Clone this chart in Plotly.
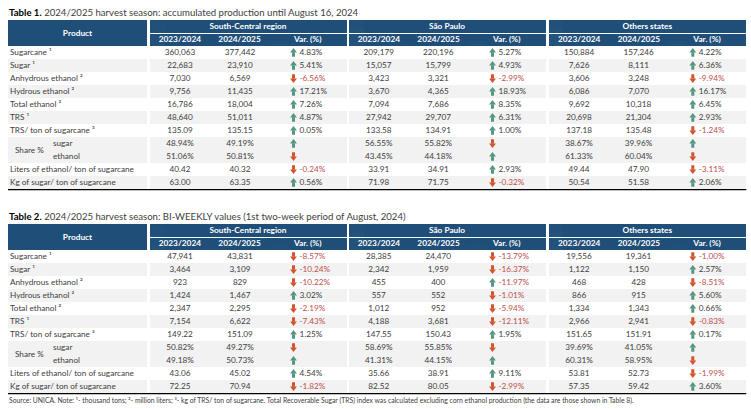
import plotly.graph_objects as go

# ---------------- data ----------------
products = ["Sugarcane ¹", "Sugar ¹", "Anhydrous ethanol ²", "Hydrous ethanol ²",
            "Total ethanol ²", "TRS ¹", "TRS/ ton of sugarcane ³", "sugar", "ethanol",
            "Liters of ethanol/ ton of sugarcane", "Kg of sugar/ ton of sugarcane"]
share_label = "Share %"
product_header = "Product"
regions = ["South-Central region", "São Paulo", "Others states"]
col_labels = ["2023/2024", "2024/2025", "Var. (%)"]
row_kinds = ["int", "int", "int", "int", "int", "int", "dec", "pct", "pct", "dec", "dec"]

t1_title_bold = "Table 1."
t1_title_rest = "2024/2025 harvest season: accumulated production until August 16, 2024"
t2_title_bold = "Table 2."
t2_title_rest = "2024/2025 harvest season: BI-WEEKLY values (1st two-week period of August, 2024)"
source_note = ("Source: UNICA. Note: ¹- thousand tons; ²- million liters; ³- kg of TRS/ ton of sugarcane. "
               "Total Recoverable Sugar (TRS) index was calculated excluding corn ethanol production "
               "(the data are those shown in Table 8).")

# Table 1 - accumulated
t1_sc_prev = [360063, 22683, 7030, 9756, 16786, 48640, 135.09, 48.94, 51.06, 40.42, 63.00]
t1_sc_curr = [377442, 23910, 6569, 11435, 18004, 51011, 135.15, 49.19, 50.81, 40.32, 63.35]
t1_sc_var = [4.83, 5.41, -6.56, 17.21, 7.26, 4.87, 0.05, None, None, -0.24, 0.56]
t1_sc_dir = ["up", "up", "down", "up", "up", "up", "up", "up", "down", "down", "up"]

t1_sp_prev = [209179, 15057, 3423, 3670, 7094, 27942, 133.58, 56.55, 43.45, 33.91, 71.98]
t1_sp_curr = [220196, 15799, 3321, 4365, 7686, 29707, 134.91, 55.82, 44.18, 34.91, 71.75]
t1_sp_var = [5.27, 4.93, -2.99, 18.93, 8.35, 6.31, 1.00, None, None, 2.93, -0.32]
t1_sp_dir = ["up", "up", "down", "up", "up", "up", "up", "down", "up", "up", "down"]

t1_ot_prev = [150884, 7626, 3606, 6086, 9692, 20698, 137.18, 38.67, 61.33, 49.44, 50.54]
t1_ot_curr = [157246, 8111, 3248, 7070, 10318, 21304, 135.48, 39.96, 60.04, 47.90, 51.58]
t1_ot_var = [4.22, 6.36, -9.94, 16.17, 6.45, 2.93, -1.24, None, None, -3.11, 2.06]
t1_ot_dir = ["up", "up", "down", "up", "up", "up", "down", "up", "down", "down", "up"]

# Table 2 - bi-weekly
t2_sc_prev = [47941, 3464, 923, 1424, 2347, 7154, 149.22, 50.82, 49.18, 43.06, 72.25]
t2_sc_curr = [43831, 3109, 829, 1467, 2295, 6622, 151.09, 49.27, 50.73, 45.02, 70.94]
t2_sc_var = [-8.57, -10.24, -10.22, 3.02, -2.19, -7.43, 1.25, None, None, 4.54, -1.82]
t2_sc_dir = ["down", "down", "down", "up", "down", "down", "up", "down", "up", "up", "down"]

t2_sp_prev = [28385, 2342, 455, 557, 1012, 4188, 147.55, 58.69, 41.31, 35.66, 82.52]
t2_sp_curr = [24470, 1959, 400, 552, 952, 3681, 150.43, 55.85, 44.15, 38.91, 80.05]
t2_sp_var = [-13.79, -16.37, -11.97, -1.01, -5.94, -12.11, 1.95, None, None, 9.11, -2.99]
t2_sp_dir = ["down", "down", "up", "down", "down", "down", "up", "down", "up", "up", "down"]

t2_ot_prev = [19556, 1122, 468, 866, 1334, 2966, 151.65, 39.69, 60.31, 53.81, 57.35]
t2_ot_curr = [19361, 1150, 428, 915, 1343, 2941, 151.91, 41.05, 58.95, 52.73, 59.42]
t2_ot_var = [-1.00, 2.57, -8.51, 5.60, 0.66, -0.83, 0.17, None, None, -1.99, 3.60]
t2_ot_dir = ["down", "up", "down", "up", "up", "down", "up", "up", "down", "down", "up"]

# ---------------- style / layout ----------------
W, H = 751, 409
FONT = "Lato"
BLUE = "#1f4e79"
STRIPE = "#f2f2f2"
WHITE = "#ffffff"
TXT = "#404040"
NEG = "#c0504d"
UP_C = "#55967f"
DOWN_C = "#d3532c"
TR = "rgba(0,0,0,0)"
STRIPE_PATTERN = [0, 1, 0, 1, 0, 1, 0, 1, 1, 0, 1]

PAD = 8          # plotly table internal cell padding
K = 0.75         # baseline offset (em) of plotly table text
CAP = 0.717      # cap height of Lato

FS = 8.2
FS_HDR = 8.3

PROD_X = (8, 147)
GROUP_X0 = [150, 349, 549.3]
GROUP_W = 197
COL_W = [60, 60, 77]
ROW_H = 13
TABLE_TOP = [20, 224]
ARROW_CX = 143.5   # arrow centre inside a group
HEAD_SIZE = 6      # triangle marker
STEM_SIZE = 3.2    # line-ns marker
STEM_W = 3


def nb(s):
    return s.replace(" ", "\u00a0")


def fmt(v, kind):
    if kind == "int":
        return f"{v:,.0f}"
    if kind == "pct":
        return f"{v:.2f}%"
    return f"{v:.2f}"


def px_domain(x0, x1, top, height):
    return dict(x=[max(0.0, x0 / W), min(1.0, x1 / W)],
                y=[max(0.0, 1 - (top + height) / H), min(1.0, 1 - top / H)])


def text_table(x0, x1, top, row_h, cols, widths, aligns, colors, fs, weight="normal"):
    # baseline inside a plotly table cell sits at PAD + K*fs from the cell top
    ytop = top - (PAD + K * fs) + row_h / 2 + CAP * fs / 2
    n = len(cols[0])
    return go.Table(
        domain=px_domain(x0, x1, ytop, n * row_h + 12),
        columnwidth=widths,
        header=dict(values=cols, height=row_h, align=aligns, fill_color=TR,
                    line=dict(color=TR, width=1),
                    font=dict(family=FONT, size=fs, color=colors, weight=weight)),
        cells=dict(values=[[] for _ in cols]),
    )


tables = [
    dict(title=(t1_title_bold, t1_title_rest),
         groups=[(t1_sc_prev, t1_sc_curr, t1_sc_var, t1_sc_dir),
                 (t1_sp_prev, t1_sp_curr, t1_sp_var, t1_sp_dir),
                 (t1_ot_prev, t1_ot_curr, t1_ot_var, t1_ot_dir)]),
    dict(title=(t2_title_bold, t2_title_rest),
         groups=[(t2_sc_prev, t2_sc_curr, t2_sc_var, t2_sc_dir),
                 (t2_sp_prev, t2_sp_curr, t2_sp_var, t2_sp_dir),
                 (t2_ot_prev, t2_ot_curr, t2_ot_var, t2_ot_dir)]),
]

n = len(products)
text_traces = []
annotations = []
shapes = []

# ---- cell backgrounds as one heatmap (0 white, 1 stripe, 2 header blue) ----
x_edges = [PROD_X[0], PROD_X[1]]
for g in GROUP_X0:
    x_edges += [g, g + GROUP_W]


def bg_row(prod_val, grp_val):
    return [prod_val, None, grp_val, None, grp_val, None, grp_val]


y_edges = []
z = []
arrows = {"up": dict(hx=[], hy=[], sx=[], sy=[]), "down": dict(hx=[], hy=[], sx=[], sy=[])}

for ti, tb in enumerate(tables):
    top = TABLE_TOP[ti]
    data_top = top + 2 * ROW_H
    if ti > 0:
        z.append(bg_row(None, None))   # blank band between the tables
    if not y_edges:
        y_edges.append(top)
    else:
        y_edges.append(top)
    y_edges += [top + ROW_H - 0.5, top + ROW_H + 0.5, data_top]
    z += [bg_row(2, 2), bg_row(2, None), bg_row(2, 2)]
    for i in range(n):
        y_edges.append(data_top + (i + 1) * ROW_H)
        z.append(bg_row(STRIPE_PATTERN[i], STRIPE_PATTERN[i]))

    # product column text
    text_traces.append(text_table(PROD_X[0], PROD_X[1], top, 2 * ROW_H, [[product_header]], [1],
                                  ["center"], [[WHITE]], FS_HDR, weight="bold"))
    labels = [nb(p) if i not in (7, 8) else "" for i, p in enumerate(products)]
    text_traces.append(text_table(2, PROD_X[1], data_top, ROW_H, [labels], [1], ["left"],
                                  [[TXT] * n], FS))
    text_traces.append(text_table(45, PROD_X[1], data_top + 7 * ROW_H, ROW_H,
                                  [[products[7], products[8]]], [1], ["left"], [[TXT, TXT]], FS))
    text_traces.append(text_table(7, 70, data_top + 7 * ROW_H + ROW_H / 2, ROW_H,
                                  [[nb(share_label)]], [1], ["left"], [[TXT]], FS))
    # groups
    for gi, (prev, curr, var, dirs) in enumerate(tb["groups"]):
        g = GROUP_X0[gi]
        text_traces.append(text_table(g, g + GROUP_W, top, ROW_H, [[nb(regions[gi])]], [1],
                                      ["center"], [[WHITE]], FS_HDR, weight="bold"))
        text_traces.append(text_table(g, g + GROUP_W, top + ROW_H, ROW_H,
                                      [[nb(c)] for c in col_labels], COL_W,
                                      ["center"] * 3, [[WHITE]] * 3, FS_HDR, weight="bold"))
        prev_s = [fmt(v, k) for v, k in zip(prev, row_kinds)]
        curr_s = [fmt(v, k) for v, k in zip(curr, row_kinds)]
        text_traces.append(text_table(g, g + 120, data_top, ROW_H, [prev_s, curr_s], COL_W[:2],
                                      ["center", "center"], [[TXT] * n] * 2, FS))
        var_s = ["" if v is None else f"{v:.2f}%" for v in var]
        var_c = [NEG if (v is not None and v < 0) else TXT for v in var]
        text_traces.append(text_table(g + 141.5, g + GROUP_W, data_top, ROW_H, [var_s], [1],
                                      ["left"], [var_c], FS))
        for i, d in enumerate(dirs):
            cy = data_top + (i + 0.5) * ROW_H
            sgn = -1 if d == "up" else 1
            a = arrows[d]
            a["hx"].append(g + ARROW_CX)
            a["hy"].append(cy + sgn * 1.5)
            a["sx"].append(g + ARROW_CX)
            a["sy"].append(cy - sgn * 2.0)
    # title
    tb_bold, tb_rest = tb["title"]
    annotations.append(dict(
        xref="paper", yref="paper", x=7 / W, y=1 - (top - 7.5) / H,
        xanchor="left", yanchor="middle", showarrow=False,
        text=f"<b>{tb_bold}</b> <span style='color:{TXT}'>{tb_rest}</span>",
        font=dict(family=FONT, size=9.6, color="#000000")))
    # bottom rule
    bottom = data_top + n * ROW_H
    shapes.append(dict(type="line", xref="paper", yref="paper",
                       x0=PROD_X[0] / W, x1=(GROUP_X0[-1] + GROUP_W) / W,
                       y0=1 - (bottom + 0.6) / H, y1=1 - (bottom + 0.6) / H,
                       line=dict(color="#000000", width=1.4)))

annotations.append(dict(
    xref="paper", yref="paper", x=7 / W, y=1 - 400.5 / H,
    xanchor="left", yanchor="middle", showarrow=False,
    text=source_note, font=dict(family=FONT, size=6.8, color=TXT)))

background = go.Heatmap(
    x=x_edges, y=y_edges, z=z, zmin=0, zmax=2,
    colorscale=[[0, WHITE], [0.5, STRIPE], [1, BLUE]],
    showscale=False, hoverinfo="skip",
)

arrow_traces = []
for d, col, head in (("up", UP_C, "triangle-up"), ("down", DOWN_C, "triangle-down")):
    a = arrows[d]
    arrow_traces.append(go.Scatter(
        x=a["sx"], y=a["sy"], mode="markers", hoverinfo="skip",
        marker=dict(symbol="line-ns", size=STEM_SIZE, color=col,
                    line=dict(color=col, width=STEM_W))))
    arrow_traces.append(go.Scatter(
        x=a["hx"], y=a["hy"], mode="markers", hoverinfo="skip",
        marker=dict(symbol=head, size=HEAD_SIZE, color=col, line=dict(width=0))))

fig = go.Figure(data=[background] + arrow_traces + text_traces)
fig.update_layout(
    width=W, height=H,
    margin=dict(l=0, r=0, t=0, b=0),
    paper_bgcolor="#ffffff",
    plot_bgcolor="rgba(0,0,0,0)",
    annotations=annotations,
    shapes=shapes,
    showlegend=False,
    hovermode=False,
    xaxis=dict(range=[0, W], visible=False, fixedrange=True),
    yaxis=dict(range=[H, 0], visible=False, fixedrange=True),
)
fig.write_html("out.html", config={"displayModeBar": False},
               post_script="document.body.style.margin='0px';")
